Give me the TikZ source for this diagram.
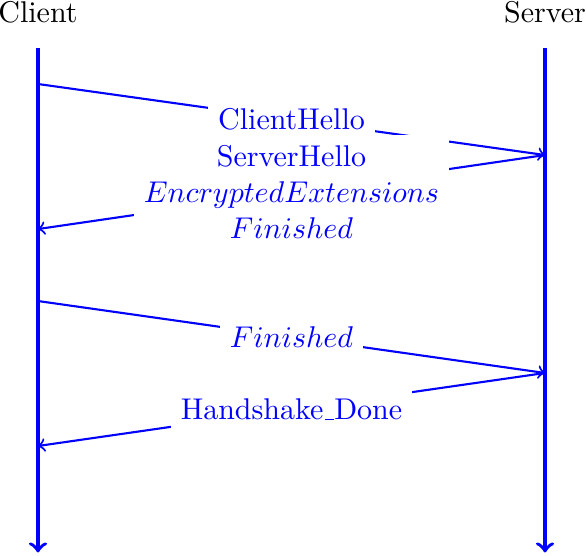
\documentclass[tikz,border=0pt]{standalone}
\usepackage{tikz}
\newcommand{\ulbar}{\leavevmode\kern.06em\vbox{\hrule width.3em}}
\tikzset{
    % lifelines of the two parties
    lifeline/.style={
        line width=1.2pt,
        blue,
        ->
    },
    msgarrow/.style={
        line width=0.7pt,
        blue,
        ->
    },
    msglabel/.style={
        fill=white,
        text=blue,
        align=center
    }
}
\begin{document}
\begin{tikzpicture}[>=to,scale=1]
   \useasboundingbox (0,0) rectangle (6.864,6.501);
   \node[anchor=base] (client) at (0.445,6.243) {Client};
   \node[anchor=base] (server) at (6.384,6.243) {Server};

   \coordinate (client top) at (0.445,5.939);
   \coordinate (client end) at (0.445,0.03);
   \coordinate (server top) at (6.384,5.939);
   \coordinate (server end) at (6.384,0.03);
   \draw [lifeline] (client top) to (client end);
   \draw [lifeline] (server top) to (server end);

   % points where the messages leave and arrive
   \coordinate (c1) at (0.445,5.517);
   \coordinate (s1) at (6.384,4.685);
   \coordinate (c2) at (0.445,3.818);
   \coordinate (c3) at (0.445,2.975);
   \coordinate (s2) at (6.384,2.132);
   \coordinate (c4) at (0.445,1.277);

   \draw [msgarrow] (c1) to node[msglabel] (hello) {ClientHello} (s1);
   \draw [msgarrow] (s1) to node[msglabel] (reply) {ServerHello\\$EncryptedExtensions$\\$Finished$} (c2);
   \draw [msgarrow] (c3) to node[msglabel] (fin) {$Finished$} (s2);
   \draw [msgarrow] (s2) to node[msglabel] (done) {Handshake\ulbar Done} (c4);
\end{tikzpicture}
\end{document}
